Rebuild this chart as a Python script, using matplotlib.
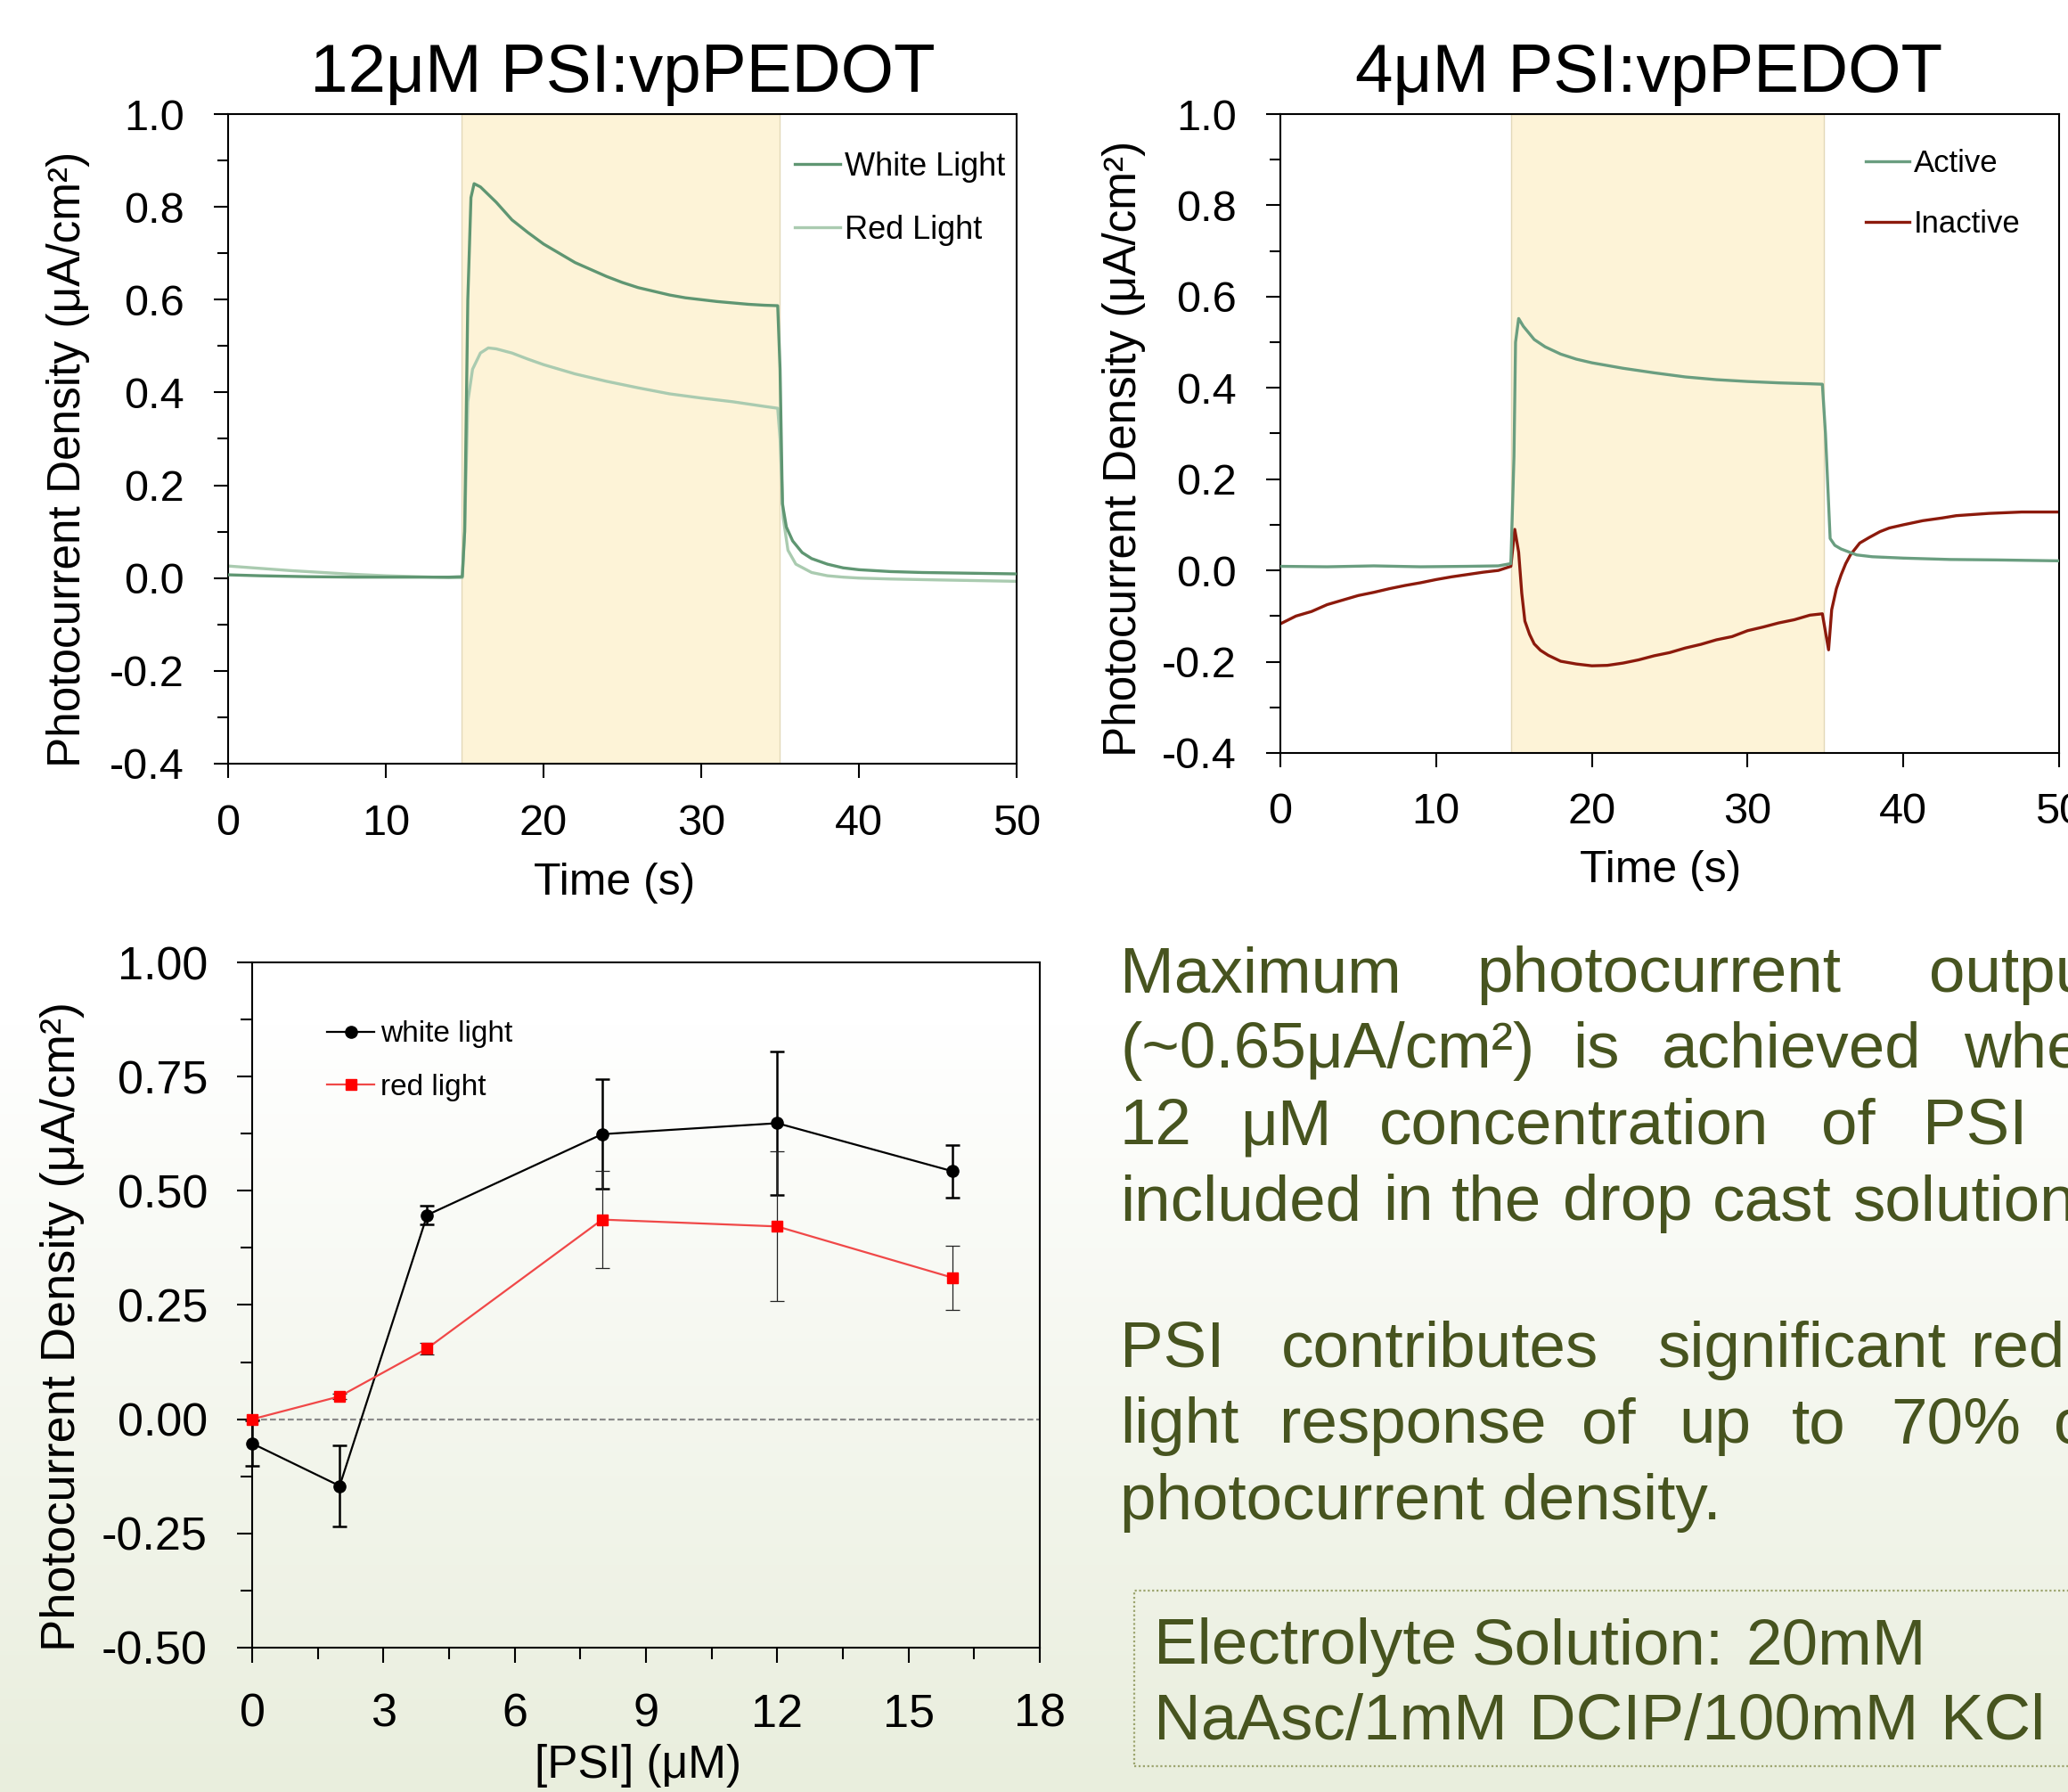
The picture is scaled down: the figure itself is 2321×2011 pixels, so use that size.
import numpy as np
import matplotlib
matplotlib.use('Agg')
import matplotlib.pyplot as plt
from matplotlib.ticker import MultipleLocator, FormatStrFormatter
from matplotlib.patches import Rectangle

plt.rcParams['font.family'] = ['Liberation Sans', 'DejaVu Sans']
plt.rcParams['axes.unicode_minus'] = False

# ---------------- data ----------------
# 12 uM PSI:vpPEDOT
t_white = [0, 2, 5, 8, 11, 14, 14.85, 15.0, 15.2, 15.4, 15.6, 16.0, 17.0, 18, 19, 20, 21, 22, 23,
           24, 25, 26, 27, 28, 29, 30, 31, 32, 33, 34, 34.85, 35.0, 35.15, 35.4, 35.8, 36.4, 37, 38,
           39, 40, 42, 44, 46, 48, 50]
i_white = [0.007, 0.005, 0.003, 0.002, 0.002, 0.002, 0.003, 0.10, 0.60, 0.82, 0.85, 0.843, 0.81,
           0.772, 0.745, 0.72, 0.70, 0.68, 0.665, 0.65, 0.637, 0.626, 0.618, 0.61, 0.604, 0.60,
           0.596, 0.593, 0.59, 0.588, 0.587, 0.45, 0.16, 0.11, 0.08, 0.055, 0.042, 0.03, 0.022,
           0.018, 0.014, 0.012, 0.011, 0.010, 0.009]
t_red = [0, 2, 4, 6, 8, 10, 12, 14, 14.85, 15.0, 15.2, 15.5, 16.0, 16.5, 17, 18, 19, 20, 22, 24,
         26, 28, 30, 32, 34, 34.85, 35.0, 35.2, 35.5, 36, 37, 38, 39, 40, 42, 45, 50]
i_red = [0.026, 0.021, 0.016, 0.012, 0.008, 0.005, 0.003, 0.001, 0.001, 0.10, 0.38, 0.45, 0.485,
         0.496, 0.494, 0.485, 0.472, 0.46, 0.44, 0.424, 0.41, 0.397, 0.388, 0.38, 0.37, 0.366,
         0.30, 0.13, 0.06, 0.03, 0.012, 0.005, 0.002, 0.0, -0.002, -0.004, -0.007]

# 4 uM PSI:vpPEDOT
t_active = [0, 3, 6, 9, 12, 14, 14.8, 15.0, 15.1, 15.3, 15.6, 16.3, 17, 18, 19, 20, 22, 24, 26,
            28, 30, 32, 34, 34.8, 35.0, 35.3, 35.6, 36, 37, 38, 40, 43, 46, 50]
i_active = [0.009, 0.008, 0.010, 0.008, 0.009, 0.010, 0.015, 0.25, 0.50, 0.552, 0.535, 0.506,
            0.49, 0.474, 0.463, 0.455, 0.443, 0.433, 0.424, 0.418, 0.414, 0.411, 0.409, 0.408,
            0.30, 0.07, 0.055, 0.047, 0.034, 0.03, 0.027, 0.024, 0.023, 0.021]
t_inactive = [0, 1, 2, 3, 4, 5, 6, 7, 8, 9, 10, 11, 12, 13, 14, 14.8, 15.05, 15.3, 15.5, 15.7,
              16.0, 16.3, 16.7, 17.2, 18, 19, 20, 21, 22, 23, 24, 25, 26, 27, 28, 29, 30, 31, 32,
              33, 34, 34.8, 35.2, 35.4, 35.7, 36.0, 36.3, 36.6, 37.2, 37.8, 38.5, 39.1, 40,
              41.25, 42.5, 43.4, 45.5, 47.6, 50]
i_inactive = [-0.117, -0.10, -0.09, -0.075, -0.065, -0.055, -0.048, -0.04, -0.033, -0.027, -0.02,
              -0.014, -0.009, -0.004, 0.0, 0.009, 0.09, 0.04, -0.05, -0.111, -0.14, -0.161,
              -0.175, -0.186, -0.199, -0.205, -0.209, -0.208, -0.203, -0.196, -0.187, -0.18,
              -0.17, -0.162, -0.152, -0.145, -0.132, -0.124, -0.115, -0.108, -0.098, -0.095,
              -0.174, -0.086, -0.04, -0.01, 0.015, 0.034, 0.06, 0.072, 0.085, 0.093, 0.10,
              0.109, 0.115, 0.12, 0.125, 0.128, 0.128]

# concentration series
psi_conc = [0, 2, 4, 8, 12, 16]
white_mean = [-0.053, -0.146, 0.447, 0.624, 0.648, 0.543]
white_err = [0.05, 0.089, 0.02, 0.12, 0.157, 0.058]
red_mean = [0.0, 0.050, 0.155, 0.437, 0.422, 0.310]
red_err = [0.0, 0.005, 0.013, 0.107, 0.164, 0.07]

light_on, light_off = 14.8, 34.95

# ---------------- figure ----------------
W, H = 2321, 2011
fig = plt.figure(figsize=(W / 100, H / 100), dpi=100)
fig.patch.set_facecolor('white')


def box(l, t, r, b):
    return [l / W, 1 - b / H, (r - l) / W, (b - t) / H]


# background gradient (white -> pale green)
bg = fig.add_axes([0, 0, 1, 1], zorder=-10)
yy = np.linspace(0, 1, 600)
start = 1150 / H
f = np.clip((yy - start) / (1 - start), 0, 1)
c_top = np.array([1.0, 1.0, 1.0])
c_bot = np.array([0xe9, 0xee, 0xdd]) / 255
grad = c_top[None, :] * (1 - f[:, None]) + c_bot[None, :] * f[:, None]
bg.imshow(grad[:, None, :], aspect='auto', extent=[0, 1, 0, 1], origin='upper')
bg.axis('off')


def style(ax, fs, padx, pady, maj, mnr):
    for s in ax.spines.values():
        s.set_linewidth(1.5)
    ax.tick_params(which='both', direction='out', width=1.5, top=False, right=False,
                   labelsize=fs)
    ax.tick_params(which='major', length=maj)
    ax.tick_params(which='minor', length=mnr)
    ax.tick_params(axis='x', pad=padx)
    ax.tick_params(axis='y', pad=pady)


ylab = 'Photocurrent Density (μA/cm²)'

# ---- top left ----
ax1 = fig.add_axes(box(256, 128, 1141, 857))
ax1.set_facecolor('white')
ax1.axvspan(light_on, light_off, facecolor='#fdf3d7', edgecolor='#e3d9b9', lw=1, zorder=0)
ax1.plot(t_white, i_white, color='#5f9672', lw=2.4, label='White Light', zorder=3)
ax1.plot(t_red, i_red, color='#aacbb0', lw=2.4, label='Red Light', zorder=2)
ax1.set_xlim(0, 50)
ax1.set_ylim(-0.4, 1.0)
ax1.xaxis.set_major_locator(MultipleLocator(10))
ax1.yaxis.set_major_locator(MultipleLocator(0.2))
ax1.yaxis.set_minor_locator(MultipleLocator(0.1))
ax1.yaxis.set_major_formatter(FormatStrFormatter('%.1f'))
style(ax1, 35, 21, 24, 11.5, 8.6)
ax1.set_xlabel('Time (s)', fontsize=36)
ax1.xaxis.set_label_coords(0.49, -0.2016)
ax1.xaxis.label.set_va('baseline')
ax1.set_ylabel(ylab, fontsize=37)
ax1.yaxis.set_label_coords((77 - 256) / 885, 0.468)
ax1.yaxis.label.set_va('center')
ax1.legend(loc='upper left', bbox_to_anchor=(0.7186, 0.943), frameon=False, fontsize=26,
           handlelength=1.4, handletextpad=0.15, labelspacing=1.0, borderpad=0,
           borderaxespad=0)
fig.text(699 / W, 1 - 103 / H, '12μM PSI:vpPEDOT', fontsize=55, ha='center', va='baseline')

# ---- top right ----
ax2 = fig.add_axes(box(1437, 128, 2311, 845))
ax2.set_facecolor('white')
ax2.axvspan(light_on, 34.9, facecolor='#fdf3d7', edgecolor='#e3d9b9', lw=1, zorder=0)
ax2.plot(t_active, i_active, color='#6a9e80', lw=2.4, label='Active', zorder=3)
ax2.plot(t_inactive, i_inactive, color='#8c1a0c', lw=2.4, label='Inactive', zorder=2)
ax2.set_xlim(0, 50)
ax2.set_ylim(-0.4, 1.0)
ax2.xaxis.set_major_locator(MultipleLocator(10))
ax2.yaxis.set_major_locator(MultipleLocator(0.2))
ax2.yaxis.set_minor_locator(MultipleLocator(0.1))
ax2.yaxis.set_major_formatter(FormatStrFormatter('%.1f'))
style(ax2, 35, 20.5, 24, 11.5, 8.6)
ax2.set_xlabel('Time (s)', fontsize=36)
ax2.xaxis.set_label_coords(0.4886, -0.202)
ax2.xaxis.label.set_va('baseline')
ax2.set_ylabel(ylab, fontsize=37)
ax2.yaxis.set_label_coords(-0.201, 0.477)
ax2.yaxis.label.set_va('center')
ax2.legend(loc='upper left', bbox_to_anchor=(0.7517, 0.945), frameon=False, fontsize=25,
           handlelength=1.4, handletextpad=0.15, labelspacing=1.0, borderpad=0,
           borderaxespad=0)
fig.text(1851 / W, 1 - 103 / H, '4μM PSI:vpPEDOT', fontsize=55, ha='center', va='baseline')

# ---- bottom left ----
ax3 = fig.add_axes(box(283, 1080, 1167, 1849))
ax3.set_facecolor('none')
ax3.axhline(0, color='#8a8a8a', lw=1.6, ls=(0, (3, 1.5)), zorder=1)
ax3.errorbar(psi_conc, white_mean, yerr=white_err, fmt='none', ecolor='black', elinewidth=1.8,
             capsize=6, capthick=1.8, zorder=3, clip_on=False)
ax3.errorbar(psi_conc, red_mean, yerr=red_err, fmt='none', ecolor='#222222', elinewidth=0.9,
             capsize=6, capthick=0.9, zorder=3, clip_on=False)
ax3.plot(psi_conc, white_mean, color='black', lw=1.6, marker='o', ms=9.5, mfc='black',
         mec='black', label='white light', zorder=4, clip_on=False)
ax3.plot(psi_conc, red_mean, color='#f04848', lw=1.6, marker='s', ms=8.5, mfc='#ff0000',
         mec='#ff0000', label='red light', zorder=4, clip_on=False)
ax3.set_xlim(0, 18)
ax3.set_ylim(-0.5, 1.0)
ax3.xaxis.set_major_locator(MultipleLocator(3))
ax3.xaxis.set_minor_locator(MultipleLocator(1.5))
ax3.yaxis.set_major_locator(MultipleLocator(0.25))
ax3.yaxis.set_minor_locator(MultipleLocator(0.125))
ax3.yaxis.set_major_formatter(FormatStrFormatter('%.2f'))
style(ax3, 37.5, 24.5, 24, 12, 9.4)
ax3.set_xlabel('[PSI] (μM)', fontsize=37)
ax3.xaxis.set_label_coords(0.49, -0.19)
ax3.xaxis.label.set_va('baseline')
ax3.set_ylabel(ylab, fontsize=39)
ax3.yaxis.set_label_coords(-0.241, 0.469)
ax3.yaxis.label.set_va('center')
ax3.legend(loc='upper left', bbox_to_anchor=(0.095, 0.915), frameon=False, fontsize=24,
           handlelength=1.6, handletextpad=0.19, labelspacing=0.85, borderpad=0,
           borderaxespad=0)

# ---------------- right-hand text ----------------
txt_color = '#47541f'
para_fs = 52.5
para_lines = [
    (1113, [('Maximum', 1257), ('photocurrent', 1657), ('output', 2165)]),
    (1198, [('(~0.65μA/cm²)', 1257), ('is', 1765), ('achieved', 1865), ('when', 2204)]),
    (1284, [('12', 1257), ('μM', 1392), ('concentration', 1548), ('of', 2044), ('PSI', 2158)]),
    (1369, [('included', 1257), ('in', 1552), ('the', 1629), ('drop', 1754), ('cast', 1922),
            ('solution', 2079)]),
    (1534, [('PSI', 1257), ('contributes', 1438), ('significant', 1860), ('red', 2212)]),
    (1619, [('light', 1257), ('response', 1436), ('of', 1775), ('up', 1884), ('to', 2011),
            ('70%', 2122), ('of', 2305)]),
    (1705, [('photocurrent density.', 1257)]),
    (1867, [('Electrolyte', 1295), ('Solution:', 1652), ('20mM', 1959)]),
    (1952, [('NaAsc/1mM', 1295), ('DCIP/100mM', 1716), ('KCl', 2178)]),
]
for yb, words in para_lines:
    for w, xw in words:
        fig.text(xw / W, 1 - yb / H, w, fontsize=para_fs, color=txt_color, ha='left',
                 va='baseline')

fig.patches.append(Rectangle((1273 / W, 1 - 1982 / H), (2400 - 1273) / W, (1982 - 1785) / H,
                             transform=fig.transFigure, fill=False, edgecolor='#9ca46e',
                             lw=1.6, ls=(0, (1, 1.2)), zorder=5))

fig.savefig('out.png', dpi=100)
